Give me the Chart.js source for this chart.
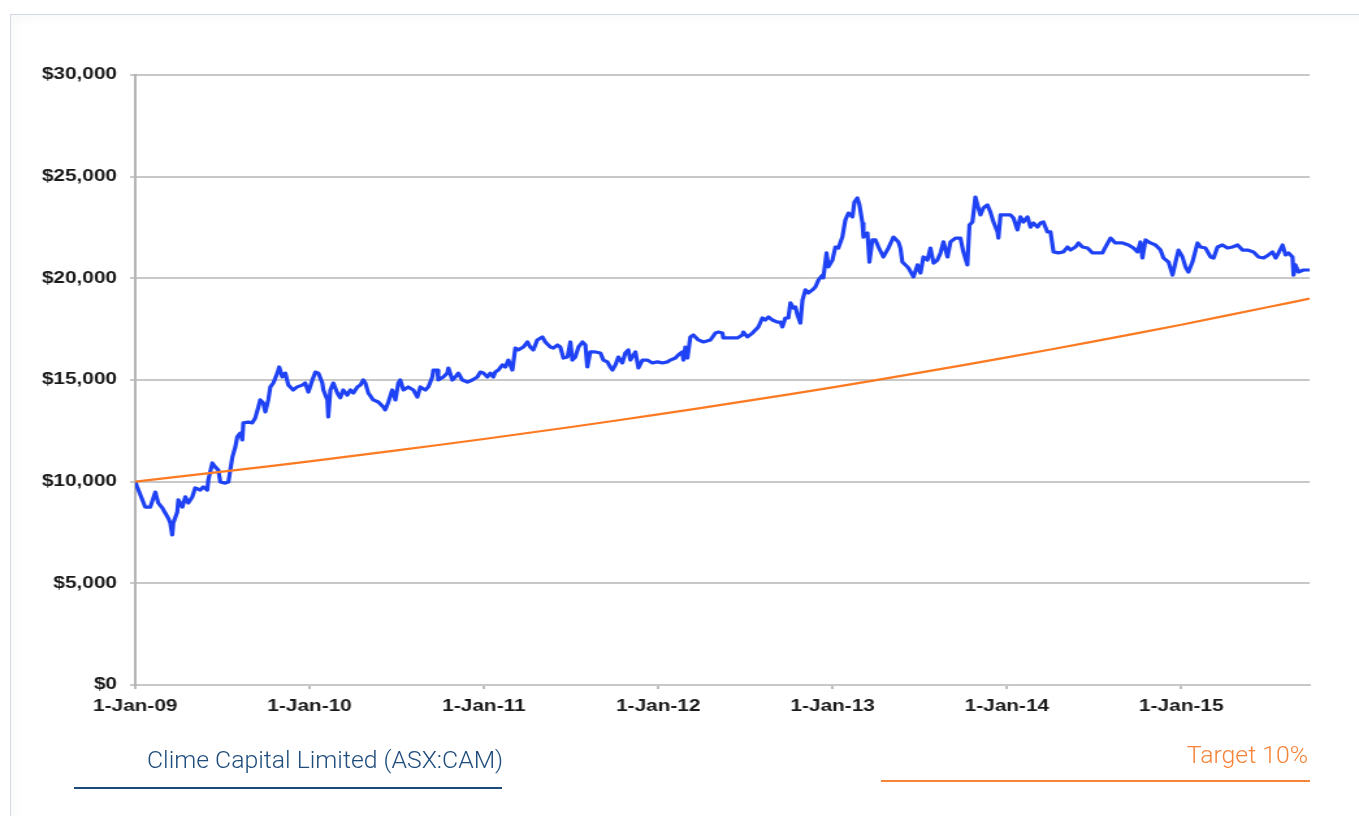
<!DOCTYPE html>
<html>
<head>
<meta charset="utf-8">
<script src="https://cdn.jsdelivr.net/npm/chart.js@4.4.1/dist/chart.umd.min.js"></script>
<style>
    html, body { margin: 0; padding: 0; background: #fff; overflow: hidden; }
    body { width: 1359px; height: 816px; position: relative; font-family: 'Liberation Sans', Arial, sans-serif; }
    #frame {
        position: absolute; left: 10px; top: 14px; width: 1400px; height: 900px;
        border: 1px solid #d3d9e5;
        box-shadow: inset 2px 2px 14px rgba(0, 0, 0, 0.035);
    }
    #chart { position: absolute; left: 0; top: 0; }
    .legend-text { position: absolute; font-family: Roboto, 'Liberation Sans', sans-serif; font-size: 24.8px; font-weight: 300; white-space: nowrap; }
    .legend-line { position: absolute; height: 2px; }
    #camLabel { left: 147px; top: 745px; color: #1f4d7c; }
    #camLine { left: 74px; top: 787px; width: 428px; background: #1b4a7b; }
    #targetLabel { right: 51px; top: 740px; color: #f5843a; }
    #targetLine { left: 881px; top: 780px; width: 429px; background: #f5843a; }
</style>
</head>
<body>
<div id="frame"></div>
<canvas id="chart" width="1045" height="816" style="width:1359px;height:816px"></canvas>
<div class="legend-text" id="camLabel">Clime Capital Limited (ASX:CAM)</div>
<div class="legend-line" id="camLine"></div>
<div class="legend-text" id="targetLabel">Target 10%</div>
<div class="legend-line" id="targetLine"></div>
<script>
// years since 1-Jan-09
const tickYears = [0, 1, 2, 3, 4, 5, 6];
const tickLabels = ['1-Jan-09', '1-Jan-10', '1-Jan-11', '1-Jan-12', '1-Jan-13', '1-Jan-14', '1-Jan-15'];

const camYears = [
    0, 0.011, 0.057, 0.086, 0.115, 0.132, 0.155, 0.172, 0.189, 0.201, 0.212, 0.218, 0.241, 0.247, 0.270, 0.287,
    0.304, 0.327, 0.344, 0.373, 0.390, 0.413, 0.419, 0.442, 0.459, 0.476, 0.488, 0.516, 0.534, 0.545, 0.557, 0.574,
    0.585, 0.602, 0.614, 0.620, 0.648, 0.671, 0.688, 0.706, 0.717, 0.734, 0.746, 0.763, 0.775, 0.792, 0.815, 0.826,
    0.843, 0.861, 0.878, 0.906, 0.929, 0.958, 0.975, 0.993, 1.016, 1.033, 1.050, 1.073, 1.079, 1.102, 1.107, 1.119,
    1.136, 1.159, 1.176, 1.193, 1.216, 1.234, 1.251, 1.274, 1.291, 1.308, 1.320, 1.337, 1.365, 1.394, 1.423, 1.434,
    1.452, 1.474, 1.492, 1.509, 1.520, 1.538, 1.566, 1.595, 1.618, 1.635, 1.664, 1.681, 1.704, 1.710, 1.733, 1.738,
    1.767, 1.790, 1.796, 1.819, 1.836, 1.853, 1.876, 1.905, 1.933, 1.962, 1.979, 1.997, 2.020, 2.037, 2.054, 2.065,
    2.083, 2.106, 2.123, 2.140, 2.163, 2.180, 2.197, 2.226, 2.249, 2.266, 2.283, 2.306, 2.335, 2.352, 2.381, 2.398,
    2.421, 2.438, 2.456, 2.479, 2.496, 2.507, 2.524, 2.542, 2.565, 2.582, 2.593, 2.610, 2.639, 2.668, 2.685, 2.708,
    2.725, 2.737, 2.754, 2.771, 2.794, 2.811, 2.828, 2.840, 2.869, 2.886, 2.909, 2.937, 2.966, 2.995, 3.024, 3.052,
    3.069, 3.098, 3.115, 3.138, 3.144, 3.155, 3.167, 3.184, 3.201, 3.230, 3.259, 3.299, 3.328, 3.345, 3.368, 3.373,
    3.414, 3.454, 3.482, 3.488, 3.511, 3.540, 3.557, 3.574, 3.597, 3.614, 3.632, 3.655, 3.683, 3.701, 3.712, 3.729,
    3.746, 3.758, 3.775, 3.787, 3.798, 3.815, 3.827, 3.844, 3.861, 3.884, 3.901, 3.919, 3.942, 3.947, 3.965, 3.976,
    3.999, 4.016, 4.033, 4.056, 4.073, 4.091, 4.114, 4.125, 4.142, 4.154, 4.171, 4.177, 4.200, 4.211, 4.228, 4.246,
    4.263, 4.291, 4.320, 4.349, 4.377, 4.389, 4.400, 4.418, 4.435, 4.458, 4.464, 4.487, 4.504, 4.521, 4.544, 4.561,
    4.579, 4.601, 4.619, 4.636, 4.659, 4.676, 4.705, 4.733, 4.750, 4.773, 4.785, 4.802, 4.819, 4.831, 4.848, 4.865,
    4.888, 4.905, 4.923, 4.946, 4.951, 4.963, 4.991, 5.020, 5.037, 5.060, 5.077, 5.095, 5.118, 5.135, 5.152, 5.175,
    5.192, 5.209, 5.232, 5.250, 5.267, 5.295, 5.324, 5.347, 5.364, 5.393, 5.410, 5.433, 5.462, 5.491, 5.508, 5.548,
    5.565, 5.594, 5.622, 5.663, 5.697, 5.726, 5.749, 5.766, 5.777, 5.795, 5.823, 5.852, 5.881, 5.898, 5.927, 5.950,
    5.967, 5.984, 6.007, 6.024, 6.041, 6.064, 6.093, 6.110, 6.139, 6.168, 6.185, 6.208, 6.236, 6.265, 6.294, 6.323,
    6.351, 6.380, 6.414, 6.443, 6.472, 6.500, 6.523, 6.541, 6.558, 6.581, 6.598, 6.615, 6.638, 6.644, 6.655, 6.672,
    6.701, 6.736
];
const camValues = [
    10000, 9740, 8750, 8750, 9490, 8950, 8710, 8460, 8210, 7970, 7380, 7970, 8510, 9100, 8750, 9250,
    8950, 9250, 9690, 9590, 9740, 9590, 10080, 10920, 10720, 10570, 9980, 9930, 9980, 10570, 11210, 11710,
    12200, 12390, 12050, 12890, 12930, 12890, 13130, 13670, 14020, 13870, 13430, 14020, 14660, 14850, 15340, 15640,
    15150, 15340, 14750, 14510, 14660, 14750, 14850, 14410, 15000, 15390, 15340, 14850, 14510, 14020, 13180, 14510,
    14850, 14360, 14120, 14510, 14260, 14510, 14360, 14660, 14750, 15000, 14850, 14360, 14020, 13920, 13670, 13530,
    13920, 14510, 14020, 14850, 15000, 14510, 14660, 14510, 14160, 14660, 14510, 14660, 15150, 15490, 15490, 15000,
    15150, 15340, 15590, 15000, 15150, 15340, 15000, 14900, 15000, 15150, 15390, 15340, 15150, 15340, 15150, 15390,
    15490, 15740, 15640, 15980, 15490, 16570, 16480, 16620, 16870, 16620, 16480, 16970, 17120, 16870, 16620, 16570,
    16720, 16620, 16080, 16130, 16870, 15980, 16130, 16620, 16870, 16720, 15640, 16380, 16380, 16330, 15980, 15890,
    15640, 15490, 15740, 16130, 15840, 16330, 16480, 15980, 16380, 15590, 15980, 15980, 15840, 15890, 15840, 15890,
    15980, 16080, 16230, 16380, 15980, 16620, 16080, 17120, 17210, 16970, 16870, 16970, 17310, 17360, 17310, 17070,
    17070, 17070, 17210, 17360, 17120, 17310, 17460, 17610, 18050, 17950, 18100, 17950, 17850, 17850, 17610, 18050,
    18050, 18790, 18540, 18590, 18200, 17800, 18930, 19430, 19280, 19430, 19570, 19920, 20160, 20020, 21250, 20560,
    20900, 21540, 21490, 22030, 22870, 23210, 23020, 23750, 23950, 23610, 22720, 22030, 22230, 20800, 21890, 21890,
    21540, 21050, 21490, 22030, 21790, 21490, 20800, 20660, 20510, 20160, 20070, 20660, 20260, 21050, 20900, 21490,
    20750, 20900, 21250, 21790, 21050, 21790, 21980, 21980, 21300, 20660, 22620, 22770, 24000, 23610, 23120, 23460,
    23610, 23260, 22770, 22280, 21980, 23120, 23120, 23120, 22970, 22380, 23020, 22770, 23020, 22520, 22720, 22520,
    22720, 22770, 22280, 22280, 21300, 21250, 21300, 21540, 21390, 21540, 21740, 21540, 21490, 21250, 21250, 21250,
    21540, 21980, 21740, 21740, 21640, 21490, 21300, 21790, 21000, 21890, 21740, 21640, 21390, 21000, 20800, 20160,
    20800, 21390, 21050, 20560, 20310, 20800, 21740, 21540, 21490, 21050, 21000, 21540, 21640, 21490, 21540, 21640,
    21390, 21390, 21300, 21050, 21000, 21150, 21300, 21000, 21250, 21640, 21150, 21250, 21050, 20160, 20660, 20310,
    20410, 20410
];

const targetYears = [0, 0.5, 1, 1.5, 2, 2.5, 3, 3.5, 4, 4.5, 5, 5.5, 6, 6.5, 6.736];
const targetValues = [10000, 10490, 11000, 11540, 12100, 12690, 13310, 13960, 14640, 15360, 16110, 16900, 17720, 18590, 19000];

function toPoints(xs, ys) {
    return xs.map((x, i) => ({ x: x, y: ys[i] }));
}

document.addEventListener('DOMContentLoaded', () => {
    const ctx = document.getElementById('chart').getContext('2d');
    const tickFont = { family: "'Liberation Sans', Arial, sans-serif", size: 16, weight: 'bold' };

    new Chart(ctx, {
        type: 'line',
        data: {
            datasets: [{
                label: 'Target 10%',
                data: toPoints(targetYears, targetValues),
                borderColor: '#fb7a22',
                borderWidth: 2.2,
                pointRadius: 0,
                tension: 0.3
            }, {
                label: 'Clime Capital Limited (ASX:CAM)',
                data: toPoints(camYears, camValues),
                borderColor: '#1f42f4',
                borderWidth: 3.2,
                borderJoinStyle: 'round',
                pointRadius: 0,
                tension: 0
            }]
        },
        options: {
            responsive: false,
            animation: false,
            events: [],
            layout: { autoPadding: false, padding: { left: 0, top: 75, right: 38, bottom: 0 } },
            plugins: { legend: { display: false }, tooltip: { enabled: false } },
            scales: {
                x: {
                    type: 'linear',
                    min: 0,
                    max: 6.736,
                    afterFit: (scale) => { scale.height = 131; },
                    afterBuildTicks: (scale) => { scale.ticks = tickYears.map(v => ({ value: v })); },
                    grid: { drawOnChartArea: false, color: '#bdbdbd', lineWidth: 2, tickLength: 4 },
                    border: { color: '#c8c8c8', width: 2 },
                    ticks: {
                        font: tickFont,
                        color: '#1a1a1a',
                        padding: 8,
                        maxRotation: 0,
                        callback: (value) => tickLabels[tickYears.indexOf(value)]
                    }
                },
                y: {
                    min: 0,
                    max: 30000,
                    afterFit: (scale) => { scale.width = 104; },
                    grid: { color: '#c8c8c8', lineWidth: 2, tickLength: 4 },
                    border: { color: '#b4b4b4', width: 2 },
                    ticks: {
                        stepSize: 5000,
                        font: tickFont,
                        color: '#1a1a1a',
                        padding: 10,
                        callback: (value) => '$' + value.toLocaleString('en-US')
                    }
                }
            }
        }
    });
});
</script>
</body>
</html>
